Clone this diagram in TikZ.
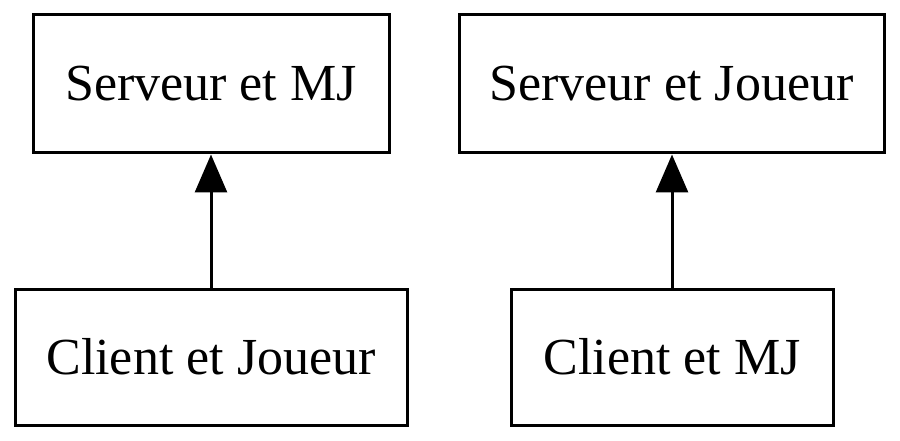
\documentclass[tikz,border=0pt]{standalone}
\usepackage{fontspec}
\setmainfont{Liberation Serif}
\usetikzlibrary{arrows.meta}
\begin{document}
\begin{tikzpicture}[x=1pt,y=-1pt,
  box/.style={draw,line width=3pt,inner sep=0pt,font=\fontsize{52}{60}\selectfont},
  link/.style={line width=3pt,-{Triangle[length=38pt,width=32pt]}}]
\useasboundingbox (0,0) rectangle (900,441);
\node[box,minimum width=356pt,minimum height=138pt] (smj) at (211,84) {Serveur et MJ};
\node[box,minimum width=425pt,minimum height=138pt] (sj) at (671.5,84) {Serveur et Joueur};
\node[box,minimum width=392pt,minimum height=136pt] (cj) at (211,357) {Client et Joueur};
\node[box,minimum width=322pt,minimum height=136pt] (cmj) at (672,357) {Client et MJ};
\draw[link] (cj) -- (smj);
\draw[link] (cmj) -- (cmj|-sj.south);
\end{tikzpicture}
\end{document}
